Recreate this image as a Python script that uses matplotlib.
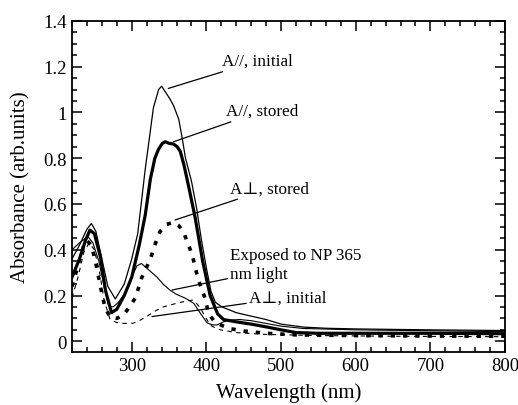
import matplotlib
matplotlib.use("Agg")
from matplotlib import pyplot as plt
from matplotlib.ticker import MultipleLocator, FormatStrFormatter

plt.rcParams['font.family'] = ['Liberation Serif', 'DejaVu Serif']

# A//, initial (thin solid)
par_init_x = [220, 230, 240, 246, 252, 260, 268, 278, 290, 300, 308, 318, 329, 336, 340,
              345, 351, 356, 363, 368, 372, 380, 387, 393, 400, 406, 412, 421, 440, 460,
              480, 500, 530, 560, 600, 700, 800]
par_init_y = [0.36, 0.42, 0.49, 0.515, 0.48, 0.36, 0.24, 0.185, 0.25, 0.36, 0.47, 0.75, 1.02,
              1.10, 1.115, 1.09, 1.06, 1.03, 0.97, 0.88, 0.80, 0.70, 0.58, 0.45, 0.32, 0.22,
              0.17, 0.15, 0.125, 0.11, 0.095, 0.075, 0.062, 0.057, 0.054, 0.05, 0.047]

# A//, stored (thick solid)
par_stor_x = [220, 230, 238, 244, 250, 258, 265, 273, 280, 290, 300, 310, 318, 325, 331,
              336, 341, 345, 350, 356, 361, 365, 370, 376, 385, 395, 405, 415, 423, 440,
              460, 480, 500, 520, 550, 600, 700, 800]
par_stor_y = [0.28, 0.36, 0.44, 0.486, 0.47, 0.37, 0.22, 0.125, 0.14, 0.2, 0.28, 0.42, 0.55,
              0.71, 0.80, 0.84, 0.865, 0.872, 0.865, 0.862, 0.85, 0.83, 0.77, 0.68, 0.54,
              0.35, 0.2, 0.12, 0.095, 0.085, 0.075, 0.063, 0.05, 0.038, 0.035, 0.035,
              0.035, 0.033]

# exposed to NP 365 nm light (thin solid)
exp_x = [220, 230, 238, 242, 248, 256, 263, 269, 275, 282, 289, 295, 300, 307, 313, 320,
         327, 334, 342, 351, 360, 372, 383, 392, 401, 408, 414, 423, 432, 445, 460, 480,
         500, 530, 600, 700, 800]
exp_y = [0.40, 0.43, 0.45, 0.455, 0.43, 0.35, 0.24, 0.155, 0.15, 0.17, 0.2, 0.24, 0.28,
         0.33, 0.34, 0.32, 0.30, 0.28, 0.25, 0.224, 0.205, 0.188, 0.166, 0.122, 0.08,
         0.072, 0.071, 0.085, 0.093, 0.095, 0.09, 0.078, 0.066, 0.056, 0.05, 0.046, 0.042]

# A-perp, stored (thick dotted)
perp_stor_x = [220, 228, 235, 240, 246, 252, 258, 264, 271, 280, 289, 297, 305, 313, 325,
               332, 338, 346, 356, 363, 369, 375, 381, 389, 398, 403, 410, 420, 432, 450,
               480, 520, 600, 700, 800]
perp_stor_y = [0.24, 0.33, 0.41, 0.44, 0.42, 0.34, 0.24, 0.15, 0.105, 0.1, 0.115, 0.15,
               0.19, 0.275, 0.36, 0.43, 0.48, 0.51, 0.52, 0.505, 0.48, 0.43, 0.377, 0.27,
               0.19, 0.12, 0.09, 0.07, 0.055, 0.045, 0.035, 0.028, 0.025, 0.023, 0.022]

# A-perp, initial (thin dashed)
perp_init_x = [220, 228, 236, 243, 250, 257, 263, 271, 280, 290, 302, 310, 320, 330, 342,
               360, 372, 381, 387, 392, 398, 405, 412, 419, 440, 480, 550, 650, 800]
perp_init_y = [0.19, 0.28, 0.39, 0.43, 0.40, 0.3, 0.18, 0.095, 0.082, 0.078, 0.079, 0.09,
               0.108, 0.13, 0.15, 0.166, 0.175, 0.18, 0.165, 0.144, 0.11, 0.071, 0.058,
               0.05, 0.038, 0.03, 0.025, 0.022, 0.02]

fig = plt.figure(figsize=(5.18, 4.06), dpi=100)
ax = fig.add_axes([0.139, 0.131, 0.836, 0.815])

ax.plot(par_init_x, par_init_y, color='black', lw=0.9)
ax.plot(par_stor_x, par_stor_y, color='black', lw=2.3)
ax.plot(exp_x, exp_y, color='black', lw=0.8)
ax.plot(perp_stor_x, perp_stor_y, color='black', lw=2.6, linestyle=(0, (1.2, 2.2)))
ax.plot(perp_init_x, perp_init_y, color='black', lw=0.8, linestyle=(0, (4, 4)))

# annotations
ann = dict(fontsize=12.3, va='center', ha='left')
arrow = dict(arrowstyle='-', color='black', lw=0.9, shrinkA=0, shrinkB=0)
ax.annotate('A//, initial', xy=(349, 1.105), xytext=(421, 1.225), arrowprops=arrow, **ann)
ax.annotate('A//, stored', xy=(356, 0.872), xytext=(426, 1.006), arrowprops=arrow, **ann)
ax.annotate('A\u22a5, stored', xy=(358, 0.53), xytext=(432, 0.668), arrowprops=arrow, **ann)
ax.annotate('Exposed to NP 365\nnm light', xy=(354, 0.224), xytext=(432, 0.335),
            arrowprops=arrow, linespacing=1.25, **ann)
ax.annotate('A\u22a5, initial', xy=(327, 0.108), xytext=(457, 0.191), arrowprops=arrow, **ann)

ax.set_xlim(220, 800)
ax.set_ylim(-0.046, 1.4)
ax.xaxis.set_major_locator(MultipleLocator(100))
ax.xaxis.set_minor_locator(MultipleLocator(20))
ax.yaxis.set_major_locator(MultipleLocator(0.2))
ax.yaxis.set_minor_locator(MultipleLocator(0.05))
ax.yaxis.set_major_formatter(FormatStrFormatter('%g'))

ax.tick_params(which='both', direction='in', top=True, right=True, labelsize=13.5, width=1.1)
ax.tick_params(which='major', length=7, pad=4)
ax.tick_params(which='minor', length=3.8)
for s in ax.spines.values():
    s.set_linewidth(1.3)

ax.set_xlabel('Wavelength (nm)', fontsize=15, labelpad=6)
ax.set_ylabel('Absorbance (arb.units)', fontsize=15, labelpad=9)

plt.savefig('out.png', dpi=100)
